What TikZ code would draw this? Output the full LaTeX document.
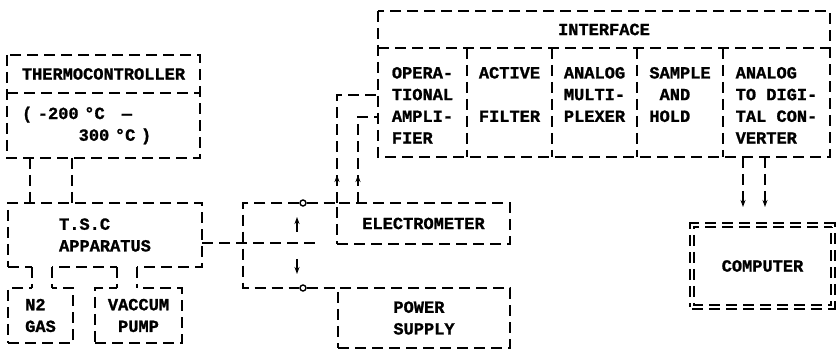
\documentclass[tikz,border=0pt]{standalone}
\usepackage{fontspec}
\newfontfamily\typefont{Liberation Mono}[BoldFeatures={FakeBold=1.2}]
\usetikzlibrary{positioning,arrows.meta,decorations.markings}
\newcommand{\capstrut}{\rule{0pt}{17pt}}

\begin{document}
\begin{tikzpicture}[x=1pt, y=-1pt, line width=2.2pt,
  brk/.style={dash pattern=on 11pt off 6pt},
  lettering/.style={outer sep=0pt, inner sep=0pt, font=\typefont\bfseries\fontsize{17}{21.7}\selectfont},
  box/.style={lettering, draw, brk},
  cell/.style={lettering, minimum height=109pt, align=left},
  pin/.style={draw, solid, circle, fill=white, line width=1.4pt, minimum size=6pt, inner sep=0pt},
  tiparrow/.style={solid, line width=1.6pt, -{Stealth[length=7pt,width=5pt]}},
  upflow/.style={brk, postaction={decorate}, decoration={markings, mark=at position 28pt with {\arrow{Stealth[length=7pt,width=5pt]}}}}]
\useasboundingbox (0,0) rectangle (840,352);

% thermocontroller
\node[lettering, minimum width=193pt, minimum height=38pt] (thermo) at (103.5,74) {THERMOCONTROLLER};
\node[lettering, below=0pt of thermo, text width=163pt, inner xsep=15pt, minimum height=65pt, align=left] (range) {( -200 °C\ \ \ —\\\hphantom{( -200}300 °C )};
\draw[brk] (thermo.north west) rectangle (range.south east);
\draw[brk] (thermo.south west) -- (thermo.south east);

% apparatus and supplies
\node[box, minimum width=194pt, minimum height=64pt, align=left] (tsc) at (105,235) {T.S.C\\APPARATUS};
\node[box, minimum width=65pt, minimum height=55pt, align=left] (gas) at (40.5,315.5) {N2\\GAS};
\node[box, minimum width=87pt, minimum height=55pt, align=center] (pump) at (138.5,315.5) {VACCUM\\PUMP};
\foreach \dx in {23,65} \draw[brk] ([xshift=\dx pt]range.south west) -- ([xshift=\dx pt]range.south west |- tsc.north);
\foreach \a/\b in {24/44,109/129} {
  \draw[white, line width=3pt] ([xshift=\a pt]tsc.south west) -- ([xshift=\b pt]tsc.south west);
  \draw[white, line width=3pt] ([xshift=\a pt]tsc.south west |- gas.north) -- ([xshift=\b pt]tsc.south west |- gas.north);
}
\foreach \dx in {24,44,109,129} \draw[brk] ([xshift=\dx pt]tsc.south west) -- ([xshift=\dx pt]tsc.south west |- gas.north);

% electrometer, power supply, switch
\node[box, minimum width=173pt, minimum height=41pt] (elec) at (423.5,223.5) {ELECTROMETER};
\node[box, minimum width=172pt, minimum height=60pt, align=left] (power) at (424,318) {POWER\\SUPPLY};
\node[pin] (swTop) at (303,203) {};
\node[pin] (swBot) at (303,288) {};
\coordinate (hinge) at (243,243);
\coordinate (bladeEnd) at (315,243);
\draw[brk] (tsc.east |- hinge) -- (bladeEnd);
\draw[brk] (swTop) -| (hinge) |- (swBot);
\draw[brk] (swTop) -- (elec.north west);
\draw[brk] (swBot) -- (power.north west);
\coordinate (upFrom) at (297,232); \coordinate (upTo) at (297,217);
\coordinate (dnFrom) at (297,259); \coordinate (dnTo) at (297,274);
\draw[tiparrow] (upFrom) -- (upTo);
\draw[tiparrow] (dnFrom) -- (dnTo);

% interface
\node[lettering, minimum width=452pt, minimum height=37pt] (title) at (604,29.5) {INTERFACE};
\node[cell, minimum width=89pt, anchor=north west] (opamp) at (378,48) {\capstrut OPERA-\\TIONAL\\AMPLI-\\FIER};
\node[cell, minimum width=85pt, right=0pt of opamp] (filter) {\capstrut ACTIVE\\\mbox{}\\FILTER\\\mbox{}};
\node[cell, minimum width=85pt, right=0pt of filter] (mux) {\capstrut ANALOG\\MULTI-\\PLEXER\\\mbox{}};
\node[cell, minimum width=86pt, right=0pt of mux] (hold) {\capstrut SAMPLE\\\hphantom{S}AND\\HOLD\\\mbox{}};
\node[cell, minimum width=107pt, right=0pt of hold] (adc) {\capstrut ANALOG\\TO DIGI-\\TAL CON-\\VERTER};
\draw[brk] (title.north west) rectangle (adc.south east);
\draw[brk] (title.south west) -- (title.south east);
\foreach \c in {opamp,filter,mux,hold} \draw[brk] (\c.north east) -- (\c.south east);
\draw[upflow] (elec.north west) |- ([yshift=7.5pt]opamp.west);
\draw[upflow] ([xshift=21pt]elec.north west) |- ([yshift=-14.5pt]opamp.west);

% computer
\node[box, double, double distance=2pt, line width=1.8pt, minimum width=141pt, minimum height=82pt] (computer) at (762.5,266) {COMPUTER};
\coordinate (inA) at (743,207); \coordinate (inB) at (765,207);
\foreach \c in {inA,inB} \draw[brk, -{Stealth[length=7pt,width=5pt]}] (\c |- adc.south) -- (\c);
\end{tikzpicture}
\end{document}
